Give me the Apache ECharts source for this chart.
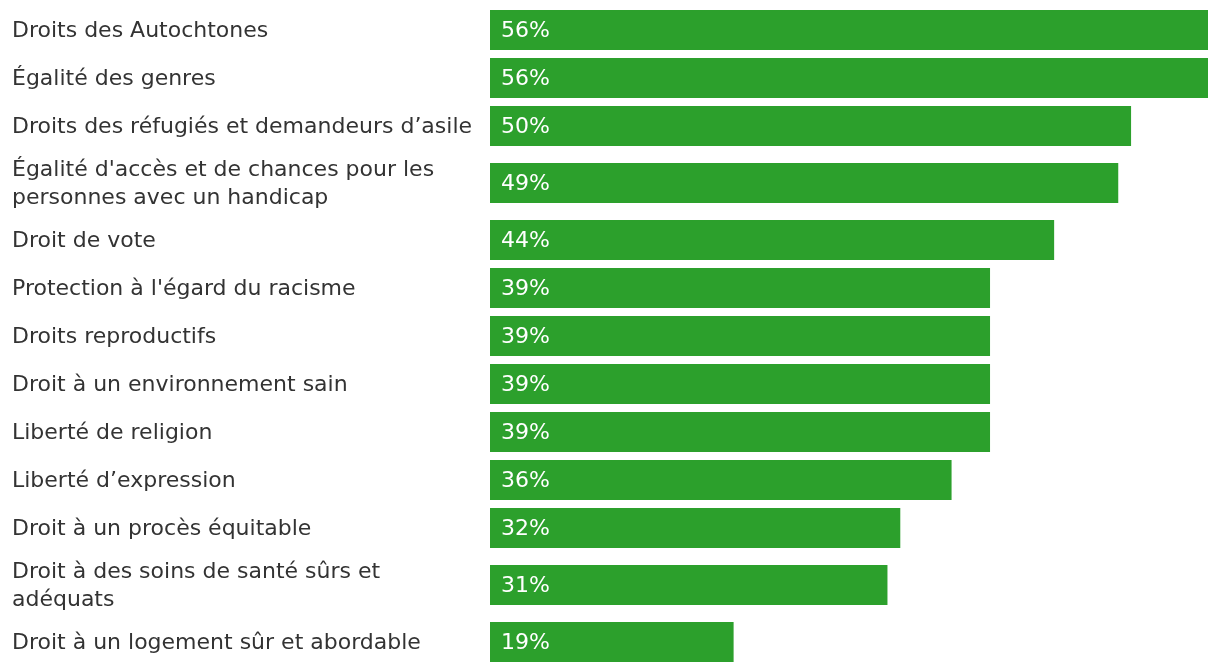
<!DOCTYPE html>
<html>
<head>
<meta charset="utf-8">
<script src="https://cdn.jsdelivr.net/npm/echarts@6/dist/echarts.min.js"></script>
<style>
html,body{margin:0;padding:0;background:#fff;}
#chart{width:1220px;height:672px;}
</style>
</head>
<body>
<div id="chart"></div>
<script>
const categories = [
  "Droits des Autochtones",
  "Égalité des genres",
  "Droits des réfugiés et demandeurs d’asile",
  "Égalité d'accès et de chances pour les\npersonnes avec un handicap",
  "Droit de vote",
  "Protection à l'égard du racisme",
  "Droits reproductifs",
  "Droit à un environnement sain",
  "Liberté de religion",
  "Liberté d’expression",
  "Droit à un procès équitable",
  "Droit à des soins de santé sûrs et\nadéquats",
  "Droit à un logement sûr et abordable"
];
const values = [56, 56, 50, 49, 44, 39, 39, 39, 39, 36, 32, 31, 19];

const ROW_SINGLE = 48, ROW_DOUBLE = 66, BAR_H = 40;
const FONT = '"DejaVu Sans", sans-serif';
const FONT_SIZE = 22;

let acc = 0;
const centers = categories.map(c => {
  const h = c.split('\n').length > 1 ? ROW_DOUBLE : ROW_SINGLE;
  const ctr = acc + h / 2;
  acc += h;
  return ctr;
});
const total = acc;

const chart = echarts.init(document.getElementById('chart'), null, {renderer: 'canvas'});
chart.setOption({
  animation: false,
  grid: {left: 490, right: 12, top: 6, bottom: 6},
  xAxis: {type: 'value', min: 0, max: Math.max(...values), show: false},
  yAxis: {type: 'value', inverse: true, min: 0, max: total, show: false},
  series: [{
    type: 'custom',
    clip: false,
    data: values.map((v, i) => [v, centers[i], i]),
    encode: {x: 0, y: 1},
    renderItem: function (params, api) {
      const v = api.value(0), c = api.value(1), i = api.value(2);
      const p0 = api.coord([0, c]);
      const p1 = api.coord([v, c]);
      const h = Math.abs(api.size([0, BAR_H])[1]);
      return {
        type: 'group',
        children: [
          {type: 'rect', shape: {x: p0[0], y: p0[1] - h / 2, width: p1[0] - p0[0], height: h},
           style: {fill: '#2ca02c'}},
          {type: 'text', style: {text: v + '%', x: p0[0] + 11, y: p0[1] + 1, verticalAlign: 'middle', align: 'left',
            fill: '#ffffff', fontSize: FONT_SIZE, fontFamily: FONT}},
          {type: 'text', style: {text: categories[i], x: p0[0] - 478, y: p0[1] + 1, verticalAlign: 'middle', align: 'left',
            fill: '#333333', fontSize: FONT_SIZE, fontFamily: FONT, lineHeight: 28}}
        ]
      };
    }
  }]
});
</script>
</body>
</html>
